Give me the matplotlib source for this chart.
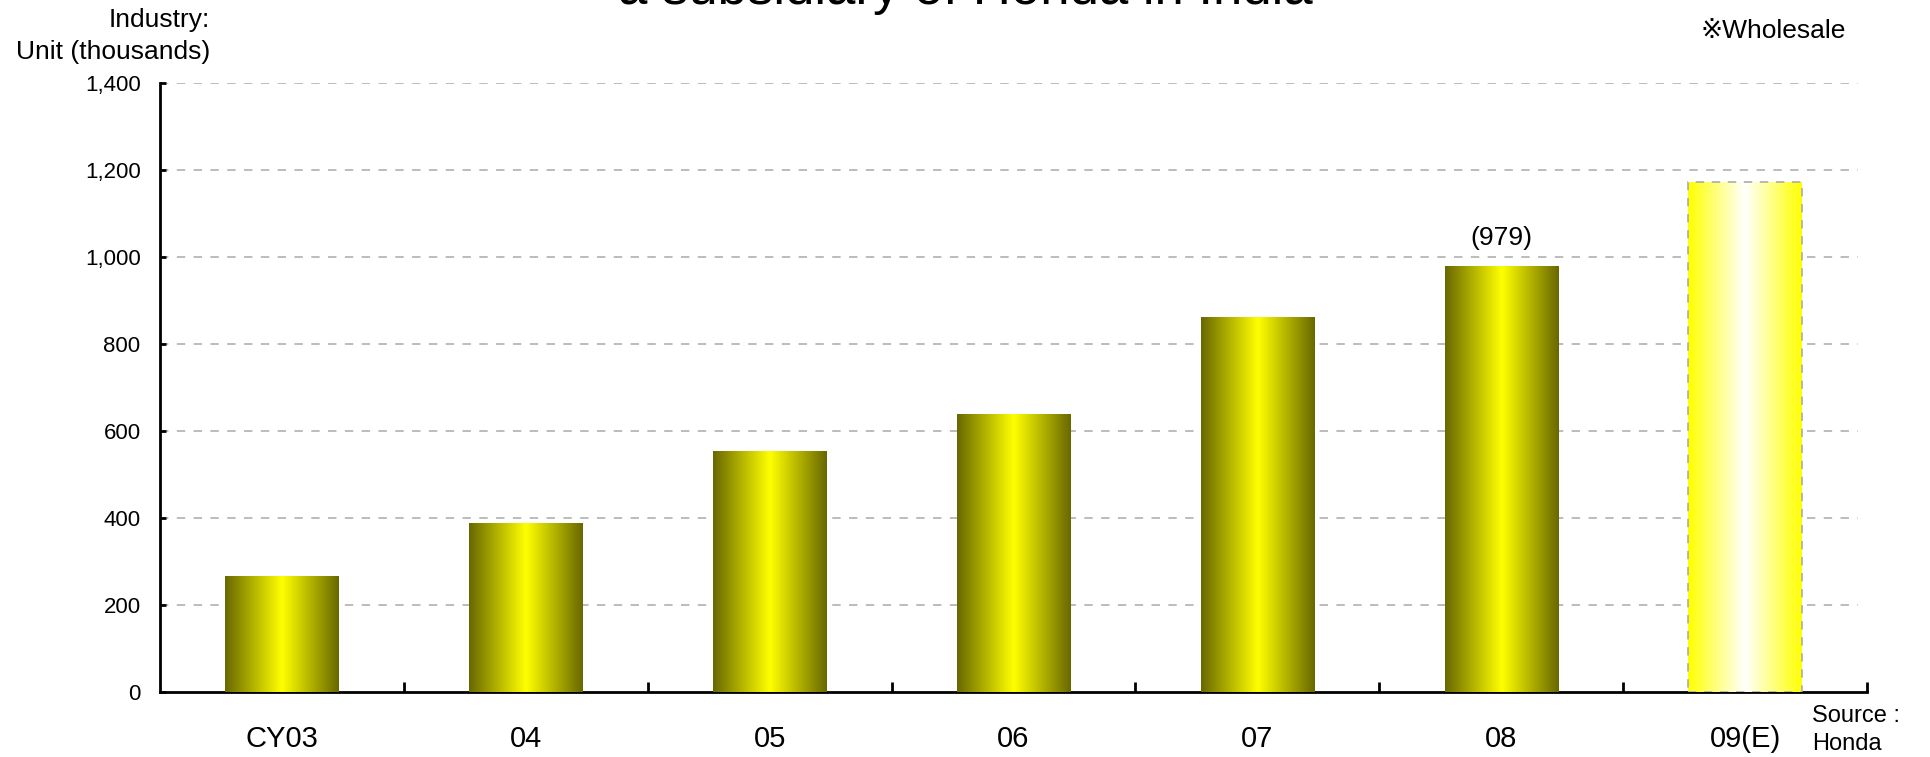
import numpy as np
import matplotlib
matplotlib.use("Agg")
import matplotlib.pyplot as plt
from matplotlib.ticker import FuncFormatter, FixedLocator

plt.rcParams['font.family'] = ['Liberation Sans', 'DejaVu Sans', 'Noto Sans CJK JP']

# Data
categories = ["CY03", "04", "05", "06", "07", "08", "09(E)"]
units = [266, 388, 555, 638, 861, 979, 1173]
estimate_flags = [False, False, False, False, False, False, True]
labelled_value = "(979)"
labelled_index = 5
yticks = [0, 200, 400, 600, 800, 1000, 1200, 1400]

W, H, DPI = 1930, 757, 100
fig = plt.figure(figsize=(W / DPI, H / DPI), dpi=DPI)
left, right, bottom, top = 160 / W, 1867 / W, 1 - 692 / H, 1 - 83 / H
ax = fig.add_axes([left, bottom, right - left, top - bottom])

x = np.arange(len(categories))
bar_width = 0.465
bars = ax.bar(x, units, width=bar_width, facecolor='none', edgecolor='none', zorder=3)


def gradient_image(edge, center, n=256):
    t = np.linspace(-1, 1, n)
    w = 1 - np.abs(t)  # 0 at edges, 1 in the middle
    edge = np.array(edge, float) / 255
    center = np.array(center, float) / 255
    row = edge[None, :] * (1 - w[:, None]) + center[None, :] * w[:, None]
    return row[None, :, :]


solid = gradient_image((104, 104, 0), (255, 255, 0))
estimate = gradient_image((255, 255, 0), (255, 255, 255))

for patch, is_est in zip(bars.patches, estimate_flags):
    x0, y0 = patch.get_x(), patch.get_y()
    w, h = patch.get_width(), patch.get_height()
    img = estimate if is_est else solid
    im = ax.imshow(img, extent=(x0, x0 + w, y0, y0 + h), aspect='auto',
                   interpolation='bilinear', zorder=3)
    im.set_clip_path(patch)
    if is_est:
        patch.set_edgecolor('#a6a6a6')
        patch.set_linewidth(1.1)
        patch.set_linestyle((0, (5.5, 5.0)))
        patch.set_zorder(4)

ax.set_xlim(-0.5, len(categories) - 0.5)
ax.set_ylim(0, 1400)

# grid
for v in yticks[1:]:
    ax.axhline(v, xmax=0.995, color='#aaaaaa', lw=1.1, dashes=(5.5, 5.5), zorder=1)

# spines
for s in ['top', 'right']:
    ax.spines[s].set_visible(False)
for s in ['left', 'bottom']:
    ax.spines[s].set_linewidth(2.0)
    ax.spines[s].set_color('black')
    ax.spines[s].set_capstyle('projecting')

ax.yaxis.set_major_locator(FixedLocator(yticks))
ax.yaxis.set_major_formatter(FuncFormatter(lambda v, p: f"{int(v):,}"))
ax.tick_params(axis='y', direction='in', length=4, width=2.0, labelsize=16, pad=14)

ax.set_xticks(x)
ax.set_xticklabels(categories)
ax.tick_params(axis='x', which='major', length=0, labelsize=21, pad=24)
ax.set_xticks(np.arange(len(categories)) + 0.5, minor=True)
ax.tick_params(axis='x', which='minor', direction='in', length=7, width=2.0)

# value label on 08
ax.annotate(labelled_value, (x[labelled_index], units[labelled_index]),
            xytext=(0, 20), textcoords='offset points', ha='center', va='center',
            fontsize=19)

# titles and notes
fig.text(965 / W, 1 - 4 / H, "a subsidiary of Honda in India", ha='center',
         va='baseline', fontsize=38)
fig.text(210 / W, 1 - 20 / H, "Industry:", ha='right', va='center', fontsize=19)
fig.text(210 / W, 1 - 52 / H, "Unit (thousands)", ha='right', va='center', fontsize=19)
fig.text(1846 / W, 1 - 31 / H, "※Wholesale", ha='right', va='center', fontsize=19)
fig.text(1812 / W, 1 - 716 / H, "Source :", ha='left', va='center', fontsize=17)
fig.text(1812 / W, 1 - 744 / H, "Honda", ha='left', va='center', fontsize=17)

fig.savefig("out.png", dpi=DPI, facecolor='white')
